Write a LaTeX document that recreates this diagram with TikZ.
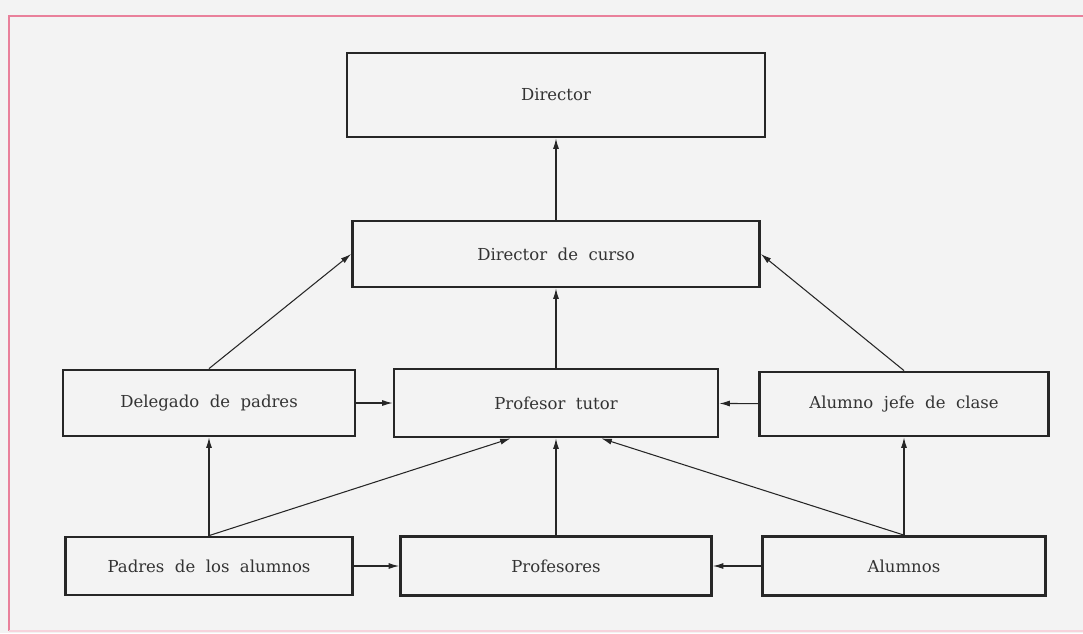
\documentclass[tikz,border=0pt]{standalone}
\usepackage{fontspec}
\setmainfont{DejaVu Serif}
\usetikzlibrary{arrows.meta}
\definecolor{paper}{RGB}{243,243,243}
\definecolor{frame}{RGB}{233,128,155}
\tikzstyle{Box}=[rectangle, draw=black!85, line width=1.6pt, inner sep=0pt, text centered, text=black!80, font=\fontsize{9.4}{11}\selectfont]
\tikzstyle{Link}=[-{Latex[length=6pt,width=3.4pt]}, line width=0.6pt, draw=black!85]

\begin{document}
\begin{tikzpicture}[x=0.02cm, y=-0.02cm]
    \useasboundingbox (0,0) rectangle (1083,633);
    \fill[paper] (0,0) rectangle (1083,633);
    \draw[frame, line width=0.9pt] (1095,16) -- (9,16) -- (9,631);
    \draw[frame!35, line width=0.6pt] (9,631) -- (1095,631);

    \path
    (556,95) node[Box, minimum width=8.36cm, minimum height=1.68cm] (director) {Director}
    (556,254) node[Box, minimum width=8.14cm, minimum height=1.32cm] (dircurso) {Director\ \ de\ \ curso}
    (209,403) node[Box, minimum width=5.84cm, minimum height=1.32cm] (delegado) {Delegado\ \ de\ \ padres}
    (556,403) node[Box, minimum width=6.48cm, minimum height=1.36cm] (tutor) {Profesor\ \ tutor}
    (904,404) node[Box, minimum width=5.78cm, minimum height=1.28cm] (jefe) {Alumno\ \ jefe\ \ de\ \ clase}
    (209,566) node[Box, minimum width=5.74cm, minimum height=1.16cm] (padres) {Padres\ \ de\ \ los\ \ alumnos}
    (556,566) node[Box, minimum width=6.22cm, minimum height=1.18cm] (profesores) {Profesores}
    (904,566) node[Box, minimum width=5.66cm, minimum height=1.18cm] (alumnos) {Alumnos};

    \draw[Link] (dircurso) -- (director);
    \draw[Link] (tutor) -- (dircurso);
    \draw[Link] (delegado.north) -- (dircurso.west);
    \draw[Link] (jefe.north) -- (dircurso.east);
    \draw[Link] (delegado) -- (tutor);
    \draw[Link] (jefe) -- (tutor);
    \draw[Link] (padres) -- (delegado);
    \draw[Link] (padres.north) -- (tutor.218);
    \draw[Link] (profesores) -- (tutor);
    \draw[Link] (alumnos.north) -- (tutor.322);
    \draw[Link] (alumnos) -- (jefe);
    \draw[Link] (padres) -- (profesores);
    \draw[Link] (alumnos) -- (profesores);
\end{tikzpicture}
\end{document}
